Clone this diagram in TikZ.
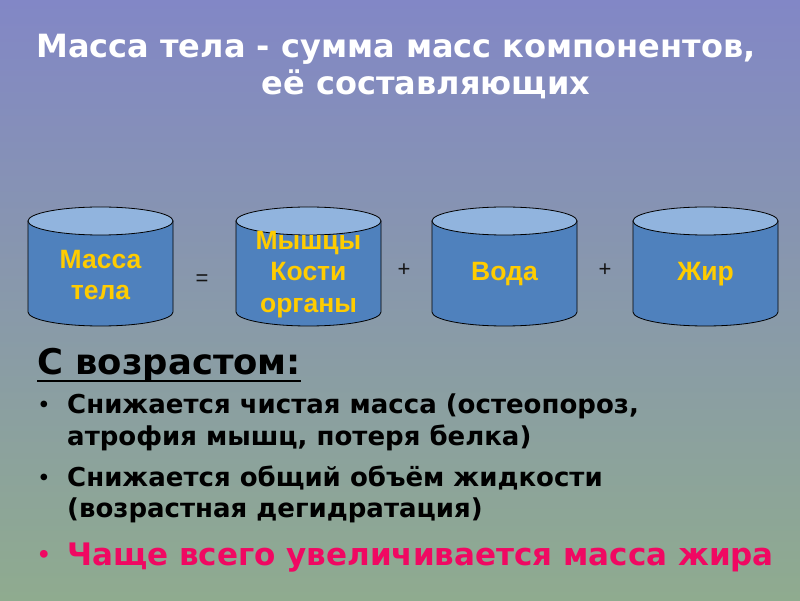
\documentclass[tikz,border=0pt]{standalone}
\usepackage{fontspec}
\setmainfont{DejaVu Sans}
\newfontfamily\cylfont{Liberation Sans}
\usetikzlibrary{calc}
\definecolor{bgtop}{RGB}{130,135,198}
\definecolor{bgbot}{RGB}{143,171,143}
\definecolor{cylside}{RGB}{79,129,189}
\definecolor{cyltop}{RGB}{145,180,222}
\definecolor{cyltext}{RGB}{255,204,0}
\definecolor{redtext}{RGB}{240,8,98}
\definecolor{optext}{RGB}{20,20,20}
\begin{document}
\begin{tikzpicture}[x=1pt,y=1pt,
  title/.style={text=white,inner sep=0pt,font=\fontsize{32}{36}\selectfont\bfseries},
  cyltxt/.style={text=cyltext,inner sep=0pt,align=center,font=\cylfont\fontsize{26.5}{31.5}\selectfont\bfseries},
  optxt/.style={text=optext,inner sep=0pt,font=\cylfont\fontsize{22}{24}\selectfont},
  body/.style={inner sep=0pt,anchor=base west,font=\fontsize{26}{30}\selectfont\bfseries},
  bul/.style={inner sep=0pt,anchor=base,font=\fontsize{19}{30}\selectfont\bfseries},
  cylline/.style={draw=black,line width=0.8pt}
]
\shade[top color=bgtop,bottom color=bgbot] (0,0) rectangle (800,600);
\useasboundingbox (0,0) rectangle (800,600);

% title
\node[title,anchor=base] (t1) at (396,542) {Масса тела - сумма масс компонентов,};
\node[title,anchor=base] (t2) at (426,505) {её составляющих};

% cylinders
\foreach \L in {28,236,432,633}{
  \path[fill=cylside,cylline] (\L,379) -- (\L,288)
     arc[start angle=180,end angle=360,x radius=72.5pt,y radius=14pt]
     -- (\L+145,379) -- cycle;
  \path[fill=cyltop,cylline] (\L+72.5,379) ellipse[x radius=72.5pt,y radius=14pt];
}
\node[cyltxt] (c1) at (100.5,325) {Масса\\тела};
\node[cyltxt] (c2) at (308.5,325.5) {Мышцы\\Кости\\органы};
\node[cyltxt] (c3) at (504.5,326) {Вода};
\node[cyltxt] (c4) at (705.5,326) {Жир};
\node[optxt] (eq) at (202,320) {=};
\node[optxt] (p1) at (404,330) {+};
\node[optxt] (p2) at (605,330) {+};

% age section
\node[inner sep=0pt,anchor=base west,font=\fontsize{35.4}{38}\selectfont\bfseries] (vz) at (37,225) {С возрастом:};
\draw[line width=1.8pt] ($(vz.base west)+(0,-6)$) -- ($(vz.base east)+(0,-6)$);

\node[bul] (b1) at (44,188) {•};
\node[body] (l1a) at (67,186) {Снижается чистая масса (остеопороз,};
\node[body] (l1b) at (67,154) {атрофия мышц, потеря белка)};
\node[bul] (b2) at (44,116) {•};
\node[body] (l2a) at (67,114) {Снижается общий объём жидкости};
\node[body] (l2b) at (67,83) {(возрастная дегидратация)};
\node[bul,text=redtext,font=\fontsize{22}{36}\selectfont\bfseries] (b3) at (44,38) {•};
\node[body,text=redtext,font=\fontsize{31}{36}\selectfont\bfseries] (l3) at (67,35) {Чаще всего увеличивается масса жира};
\end{tikzpicture}
\end{document}
